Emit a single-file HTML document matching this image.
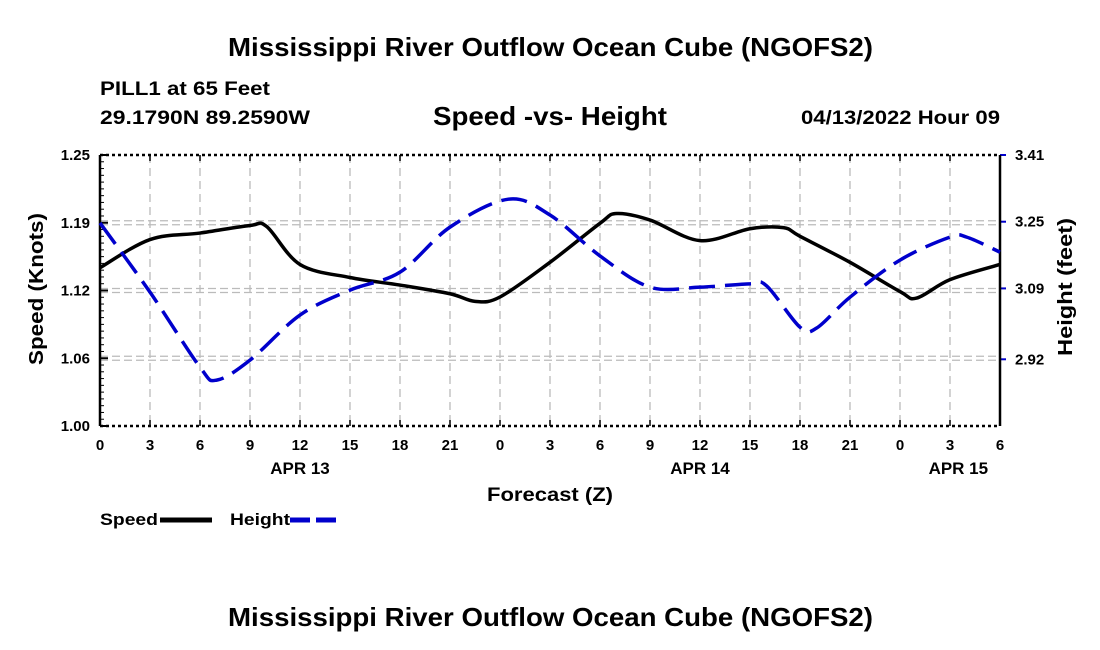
<!DOCTYPE html>
<html><head><meta charset="utf-8"><style>
body{margin:0;background:#fff;}
svg{display:block;font-family:"Liberation Sans",Arial,sans-serif;font-weight:bold;}
</style></head><body>
<svg id="c" width="1100" height="650" viewBox="0 0 1100 650">
<text x="228" y="56" textLength="645" lengthAdjust="spacingAndGlyphs" font-size="26">Mississippi River Outflow Ocean Cube (NGOFS2)</text>
<text x="100" y="95" textLength="170" lengthAdjust="spacingAndGlyphs" font-size="19">PILL1 at 65 Feet</text>
<text x="100" y="124" textLength="210" lengthAdjust="spacingAndGlyphs" font-size="19">29.1790N  89.2590W</text>
<text x="433" y="125" textLength="234" lengthAdjust="spacingAndGlyphs" font-size="26">Speed -vs- Height</text>
<text x="801" y="124" textLength="199" lengthAdjust="spacingAndGlyphs" font-size="19">04/13/2022 Hour 09</text>
<text x="228" y="626" textLength="645" lengthAdjust="spacingAndGlyphs" font-size="26">Mississippi River Outflow Ocean Cube (NGOFS2)</text>
<g id="grid"></g><g id="axes"></g><g id="series"></g>
<text transform="translate(43,289) rotate(-90)" text-anchor="middle" textLength="152" lengthAdjust="spacingAndGlyphs" font-size="20">Speed (Knots)</text>
<text transform="translate(1072,287) rotate(-90)" text-anchor="middle" textLength="138" lengthAdjust="spacingAndGlyphs" font-size="20">Height (feet)</text>
<text x="487" y="501" textLength="126" lengthAdjust="spacingAndGlyphs" font-size="19">Forecast (Z)</text>
<g>
<text x="100" y="525" textLength="58" lengthAdjust="spacingAndGlyphs" font-size="17">Speed</text>
<line x1="160" y1="520" x2="212" y2="520" stroke="#000" stroke-width="5"/>
<text x="230" y="525" textLength="60" lengthAdjust="spacingAndGlyphs" font-size="17">Height</text>
<line x1="290" y1="520" x2="342" y2="520" stroke="#00c" stroke-width="5" stroke-dasharray="20,6"/>
</g>
</svg>
<script>
const hours=[0,3,6,9,10,12,15,18,21,22.5,24,27,30,31,33,36,39,41,42,45,48,49,51,54];
const speed=[1.146,1.172,1.178,1.185,1.184,1.149,1.137,1.130,1.122,1.115,1.119,1.151,1.187,1.196,1.190,1.171,1.182,1.183,1.175,1.151,1.124,1.118,1.135,1.149];
const hHours=[0,3,6,7,9,12,15,18,21,24.5,27,30,33,36,39,40,42,43,45,48,51,52,54];
const height=[3.247,3.081,2.901,2.870,2.918,3.026,3.086,3.129,3.237,3.304,3.266,3.168,3.093,3.093,3.101,3.096,2.997,2.995,3.069,3.158,3.213,3.213,3.177];
const xTicks=["0","3","6","9","12","15","18","21","0","3","6","9","12","15","18","21","0","3","6"];
const dayLabels=["APR 13","APR 14","APR 15"];
const dayHours=[12,36,51.5];
const leftTicks=["1.00","1.06","1.12","1.19","1.25"];
const rightTicks=["2.92","3.09","3.25","3.41"];
const X0=100,X1=1000,Y0=155,Y1=426;
const x=h=>X0+h*(X1-X0)/54;
const yL=v=>Y1-(v-1)*(Y1-Y0)/0.25;
const yR=v=>Y0+(3.41-v)*(Y1-Y0)/0.65;
const NS="http://www.w3.org/2000/svg";
function mk(t,a,p){const e=document.createElementNS(NS,t);for(const k in a)e.setAttribute(k,a[k]);p.appendChild(e);return e;}
const grid=document.getElementById('grid'),axes=document.getElementById('axes'),ser=document.getElementById('series');
xTicks.forEach((t,i)=>{const xx=x(i*3);
 if(i>0&&i<18){const l=mk('line',{x1:xx,y1:Y0,x2:xx,y2:Y1,stroke:'#bbb','stroke-width':1.3,'stroke-dasharray':'8,5'},grid);
 
 }
 const tk=mk('line',{x1:xx,y1:Y1,x2:xx,y2:Y1-6,stroke:'#000','stroke-width':1.5},axes);
 
 
 const tt=mk('line',{x1:xx,y1:Y0,x2:xx,y2:Y0+6,stroke:'#000','stroke-width':1.5},axes);
 
 
 const tx=mk('text',{x:xx,y:Y1+24,'text-anchor':'middle','font-size':15},axes);tx.textContent=t;
 
 });
dayLabels.forEach((d,i)=>{const tx=mk('text',{x:x(dayHours[i]),y:Y1+48,'text-anchor':'middle','font-size':17},axes);tx.textContent=d;
 
 });
leftTicks.forEach((t,i)=>{const yy=Y1-i*(Y1-Y0)/4;
 if(i>0&&i<4){[-2,2].forEach(o=>{const l=mk('line',{x1:X0,y1:yy+o,x2:X1,y2:yy+o,stroke:'#bbb','stroke-width':1.3,'stroke-dasharray':'8,4'},grid);
 
 });}
 const tx=mk('text',{x:X0-10,y:yy+5,'text-anchor':'end','font-size':15},axes);tx.textContent=t;
 
 
 const tk=mk('line',{x1:X0,y1:yy,x2:X0+8,y2:yy,stroke:'#000','stroke-width':2},axes);
 
 });
for(let i=1;i<40;i++){const yy=Y1-i*(Y1-Y0)/40;const m=mk('line',{x1:X0,y1:yy,x2:X0+4,y2:yy,stroke:'#000','stroke-width':1},axes);
 
 }
rightTicks.forEach((t,i)=>{const yy=yR(parseFloat(t));
 const tk=mk('line',{x1:X1,y1:yy,x2:X1+6,y2:yy,stroke:'#00c','stroke-width':2},axes);
 
 
 const tx=mk('text',{x:X1+15,y:yy+5,'font-size':15},axes);tx.textContent=t;
 
 });
[[X0,Y0,X1,Y0,'top-axis','3,3'],[X0,Y1,X1,Y1,'bottom-axis','3,3']].forEach(a=>{const l=mk('line',{x1:a[0],y1:a[1],x2:a[2],y2:a[3],stroke:'#000','stroke-width':2.5,'stroke-dasharray':a[5]},axes);
 
 });
[[X0,'left-axis'],[X1,'right-axis']].forEach(a=>{const l=mk('line',{x1:a[0],y1:Y0,x2:a[0],y2:Y1,stroke:'#000','stroke-width':2.5},axes);
 
 });
function path(xs,ys){const p=xs.map((h,i)=>[x(h),ys[i]]);let d='M'+p[0][0]+','+p[0][1];
 for(let i=0;i<p.length-1;i++){const a=p[Math.max(0,i-1)],b=p[i],c=p[i+1],e=p[Math.min(p.length-1,i+2)];
 d+=' C'+(b[0]+(c[0]-a[0])/6)+','+(b[1]+(c[1]-a[1])/6)+' '+(c[0]-(e[0]-b[0])/6)+','+(c[1]-(e[1]-b[1])/6)+' '+c[0]+','+c[1];}
 return d;}
const ps=mk('path',{d:path(hours,speed.map(yL)),fill:'none',stroke:'#000','stroke-width':3.5},ser);


const ph=mk('path',{d:path(hHours,height.map(yR)),fill:'none',stroke:'#00c','stroke-width':3.5,'stroke-dasharray':'26,10'},ser);


</script>
</body></html>
